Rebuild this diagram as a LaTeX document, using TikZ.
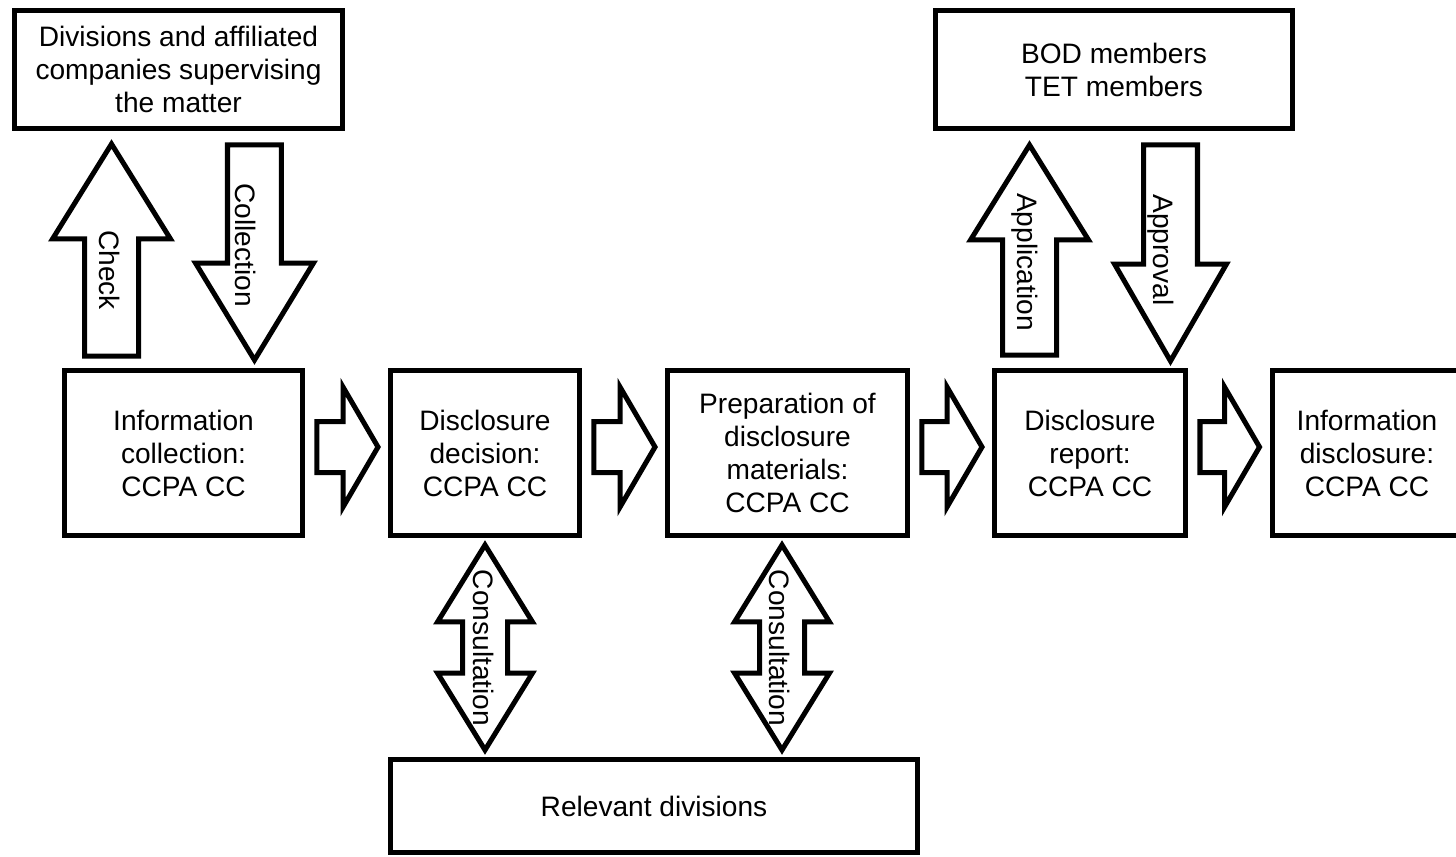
\documentclass[tikz,border=0pt]{standalone}
\usepackage{fontspec}
\setmainfont{Liberation Sans}
\usetikzlibrary{math}

\tikzset{
    box/.style={draw, line width=2.85pt, align=center, inner sep=0pt},
    flow/.style={box, minimum height=3.3cm},
    fatline/.style={draw, line width=2.85pt, line join=miter, fill=white},
    tag/.style={rotate=-90, inner sep=0pt},
}

\begin{document}
\begin{tikzpicture}[x=0.02cm, y=-0.02cm, font=\fontsize{16}{18.8}\selectfont]
    \useasboundingbox (0,0) rectangle (1456,856);
%
    \node[box, minimum width=6.56cm, minimum height=2.36cm] (supervise) at (178.5,69.5)
        {Divisions and affiliated\\companies supervising\\the matter};
    \node[box, minimum width=7.14cm, minimum height=2.36cm] (board) at (1114,69.5)
        {BOD members\\TET members};
    \node[flow, minimum width=4.76cm] (collect) at (183.5,453) {Information\\collection:\\CCPA CC};
    \node[flow, minimum width=3.78cm] (decide) at (485,453) {Disclosure\\decision:\\CCPA CC};
    \node[flow, minimum width=4.8cm] (prepare) at (787.5,453) {Preparation of\\disclosure\\materials:\\CCPA CC};
    \node[flow, minimum width=3.82cm] (report) at (1090,453) {Disclosure\\report:\\CCPA CC};
    \node[flow, minimum width=3.8cm] (publish) at (1367,453) {Information\\disclosure:\\CCPA CC};
    \node[box, minimum width=10.54cm, minimum height=1.86cm] (divisions) at (654,806) {Relevant divisions};
%
    \tikzmath{
        \pxu = 0.5690551;
        function fatarrow(\xs, \ys, \xe, \ye, \sw, \hw, \hl) {
            \len = veclen(\xe - \xs, \ye - \ys);
            \ux = (\xe - \xs) / \len;
            \uy = (\ye - \ys) / \len;
            \bx = \xe - \hl * \ux;
            \by = \ye - \hl * \uy;
            \tax = \xs - \sw * \uy; \tay = \ys + \sw * \ux;
            \tbx = \xs + \sw * \uy; \tby = \ys - \sw * \ux;
            \sax = \bx - \sw * \uy; \say = \by + \sw * \ux;
            \sbx = \bx + \sw * \uy; \sby = \by - \sw * \ux;
            \hax = \bx - \hw * \uy; \hay = \by + \hw * \ux;
            \hbx = \bx + \hw * \uy; \hby = \by - \hw * \ux;
            {\draw[fatline] (\tax pt,\tay pt) -- (\sax pt,\say pt) -- (\hax pt,\hay pt)
                -- (\xe pt,\ye pt) -- (\hbx pt,\hby pt) -- (\sbx pt,\sby pt)
                -- (\tbx pt,\tby pt) -- cycle; };
        };
        function twinarrow(\xs, \ys, \xe, \ye, \sw, \hw, \hl) {
            \len = veclen(\xe - \xs, \ye - \ys);
            \ux = (\xe - \xs) / \len;
            \uy = (\ye - \ys) / \len;
            \fx = \xs + \hl * \ux; \fy = \ys + \hl * \uy;
            \bx = \xe - \hl * \ux; \by = \ye - \hl * \uy;
            \fhax = \fx - \hw * \uy; \fhay = \fy + \hw * \ux;
            \fsax = \fx - \sw * \uy; \fsay = \fy + \sw * \ux;
            \bsax = \bx - \sw * \uy; \bsay = \by + \sw * \ux;
            \bhax = \bx - \hw * \uy; \bhay = \by + \hw * \ux;
            \bhbx = \bx + \hw * \uy; \bhby = \by - \hw * \ux;
            \bsbx = \bx + \sw * \uy; \bsby = \by - \sw * \ux;
            \fsbx = \fx + \sw * \uy; \fsby = \fy - \sw * \ux;
            \fhbx = \fx + \hw * \uy; \fhby = \fy - \hw * \ux;
            {\draw[fatline] (\xs pt,\ys pt) -- (\fhax pt,\fhay pt) -- (\fsax pt,\fsay pt)
                -- (\bsax pt,\bsay pt) -- (\bhax pt,\bhay pt) -- (\xe pt,\ye pt)
                -- (\bhbx pt,\bhby pt) -- (\bsbx pt,\bsby pt) -- (\fsbx pt,\fsby pt)
                -- (\fhbx pt,\fhby pt) -- cycle; };
        };
%
        coordinate \ptA, \ptB;
        % check / collection
        \ptA = (collect.north west);
        \ptB = (supervise.south);
        fatarrow(\ptAx + 49.5*\pxu, \ptAy + 12*\pxu, \ptAx + 49.5*\pxu, \ptBy - 13*\pxu, 27*\pxu, 59*\pxu, 95*\pxu);
        \ptA = (collect.north east);
        fatarrow(\ptAx - 50.5*\pxu, \ptBy - 14*\pxu, \ptAx - 50.5*\pxu, \ptAy + 8*\pxu, 27*\pxu, 59*\pxu, 97*\pxu);
        % application / approval
        \ptA = (report.north west);
        \ptB = (board.south);
        fatarrow(\ptAx + 37.5*\pxu, \ptAy + 13*\pxu, \ptAx + 37.5*\pxu, \ptBy - 14*\pxu, 27*\pxu, 59*\pxu, 95*\pxu);
        \ptA = (report.north east);
        fatarrow(\ptAx - 17.5*\pxu, \ptBy - 14*\pxu, \ptAx - 17.5*\pxu, \ptAy + 7*\pxu, 27*\pxu, 56*\pxu, 97*\pxu);
        % flow
        \ptA = (collect.east);
        \ptB = (decide.west);
        fatarrow(\ptAx + 12*\pxu, \ptAy + 6*\pxu, \ptBx - 10*\pxu, \ptAy + 6*\pxu, 25.5*\pxu, 60*\pxu, 35*\pxu);
        \ptA = (decide.east);
        \ptB = (prepare.west);
        fatarrow(\ptAx + 12*\pxu, \ptAy + 6*\pxu, \ptBx - 10*\pxu, \ptAy + 6*\pxu, 25.5*\pxu, 60*\pxu, 35*\pxu);
        \ptA = (prepare.east);
        \ptB = (report.west);
        fatarrow(\ptAx + 12*\pxu, \ptAy + 6*\pxu, \ptBx - 10*\pxu, \ptAy + 6*\pxu, 25.5*\pxu, 60*\pxu, 35*\pxu);
        \ptA = (report.east);
        \ptB = (publish.west);
        fatarrow(\ptAx + 12*\pxu, \ptAy + 6*\pxu, \ptBx - 10*\pxu, \ptAy + 6*\pxu, 25.5*\pxu, 60*\pxu, 35*\pxu);
        % consultation
        \ptA = (decide.south);
        \ptB = (divisions.north);
        twinarrow(\ptAx, \ptAy - 7*\pxu, \ptAx, \ptBy + 7*\pxu, 22.5*\pxu, 47.5*\pxu, 77*\pxu);
        \ptA = (prepare.south);
        twinarrow(\ptAx - 5.5*\pxu, \ptAy - 7*\pxu, \ptAx - 5.5*\pxu, \ptBy + 7*\pxu, 22.5*\pxu, 47.5*\pxu, 77*\pxu);
    }
%
    \node[tag] (lcheck) at (110,270) {Check};
    \node[tag] (lcollect) at (246,245) {Collection};
    \node[tag] (lapply) at (1025,262) {Application};
    \node[tag] (lapprove) at (1161,250) {Approval};
    \node[tag] (lconsulta) at (484,648) {Consultation};
    \node[tag] (lconsultb) at (780,648) {Consultation};
\end{tikzpicture}
\end{document}
